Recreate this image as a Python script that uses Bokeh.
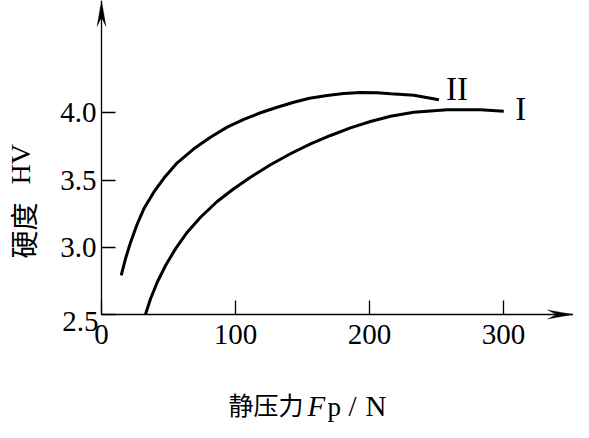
import math
from bokeh.plotting import figure
from bokeh.models import Range1d, FixedTicker, Label, PolyAnnotation
from bokeh.embed import file_html
from bokeh.resources import INLINE

# ---- data ----
x_ticks = [0, 100, 200, 300]
y_ticks = [2.5, 3.0, 3.5, 4.0]
x_tick_labels = ["0", "100", "200", "300"]
y_tick_labels = ["2.5", "3.0", "3.5", "4.0"]

curve2_x = [14.7, 17.9, 21.6, 26.6, 31.6, 39.0, 46.5, 56.5, 68.9, 81.3, 93.8, 106.2,
            118.7, 131.1, 143.5, 155.2, 168.4, 180.8, 193.3, 205.7, 215.7, 233.1, 251.8]
curve2_y = [2.790, 2.914, 3.033, 3.171, 3.286, 3.409, 3.513, 3.628, 3.732, 3.818, 3.893, 3.950,
            4.000, 4.041, 4.078, 4.108, 4.128, 4.143, 4.151, 4.148, 4.141, 4.130, 4.096]

curve1_x = [32.8, 36.6, 41.6, 47.8, 55.2, 64.0, 73.9, 86.3, 98.7, 111.2, 126.1,
            141.0, 156.0, 170.9, 185.8, 200.7, 215.7, 233.1, 258.0, 282.8, 300.2]
curve1_y = [2.500, 2.617, 2.740, 2.864, 2.988, 3.112, 3.223, 3.340, 3.435, 3.521, 3.613,
            3.695, 3.769, 3.831, 3.888, 3.935, 3.974, 4.004, 4.022, 4.022, 4.012]

series_names = ["II", "I"]

# ---- layout ----
W, H = 573, 422
AX_X, AX_Y = 101, 314       # pixel position of the axes corner
XPX = 1.34                  # pixels per x unit
YPX = 134.5                 # pixels per y unit
xa, ya = 0.0, 2.5           # axes origin (data)
x1 = xa + (W - AX_X) / XPX
y1 = ya + AX_Y / YPX


def px2x(X):
    return xa + (X - AX_X) / XPX


def px2y(Y):
    return ya + (AX_Y - Y) / YPX


SERIF = "Liberation Serif"
CJK = "Noto Sans CJK SC"

p = figure(width=W, height=H, output_backend="svg", toolbar_location=None,
           x_range=Range1d(px2x(0), px2x(W)), y_range=Range1d(px2y(H), px2y(0)),
           min_border_left=0, min_border_bottom=0, min_border_top=0, min_border_right=0)
p.outline_line_color = None
p.grid.visible = False
p.background_fill_color = "white"
p.border_fill_color = "white"

p.xaxis.fixed_location = ya
p.yaxis.fixed_location = xa
p.xaxis.bounds = (xa, x1)
p.yaxis.bounds = (ya, y1)

for ax in (p.xaxis[0], p.yaxis[0]):
    ax.axis_line_color = "black"
    ax.axis_line_width = 1.3
    ax.major_tick_in = 14
    ax.major_tick_out = 0
    ax.minor_tick_in = 0
    ax.minor_tick_out = 0
    ax.major_tick_line_width = 1.3
    ax.major_label_text_font = SERIF
    ax.major_label_text_font_size = "29px"
    ax.major_label_text_color = "black"

p.xaxis.ticker = FixedTicker(ticks=x_ticks)
p.yaxis.ticker = FixedTicker(ticks=y_ticks)
p.xaxis.major_label_overrides = {t: s for t, s in zip(x_ticks, x_tick_labels)}
y_over = {t: s for t, s in zip(y_ticks, y_tick_labels)}
y_over[y_ticks[0]] = ""          # drawn separately: it sits a little low in the reference
p.yaxis.major_label_overrides = y_over
p.xaxis.major_label_standoff = 10
p.yaxis.major_label_standoff = 5

# curves
p.line(curve2_x, curve2_y, line_color="black", line_width=3)
p.line(curve1_x, curve1_y, line_color="black", line_width=3)

p.add_layout(Label(x=curve2_x[-1] + 18 / XPX, y=curve2_y[-1] + 11 / YPX, text=series_names[0],
                   text_font=SERIF, text_font_size="33px", text_align="center",
                   text_baseline="middle", text_color="black"))
p.add_layout(Label(x=curve1_x[-1] + 17 / XPX, y=curve1_y[-1] + 2 / YPX, text=series_names[1],
                   text_font=SERIF, text_font_size="33px", text_align="center",
                   text_baseline="middle", text_color="black"))

# arrowheads on the axes
L, hw, notch = 26, 4.5, 0.65
p.add_layout(PolyAnnotation(
    xs=[x1, x1 - L / XPX, x1 - notch * L / XPX, x1 - L / XPX],
    ys=[ya, ya + hw / YPX, ya, ya - hw / YPX],
    fill_color="black", fill_alpha=1, line_color="black", line_width=1))
p.add_layout(PolyAnnotation(
    xs=[xa, xa + hw / XPX, xa, xa - hw / XPX],
    ys=[y1, y1 - L / YPX, y1 - notch * L / YPX, y1 - L / YPX],
    fill_color="black", fill_alpha=1, line_color="black", line_width=1))


def txt(X, Y, s, font, size, align="left", baseline="middle", style="normal", angle=0.0):
    p.add_layout(Label(x=px2x(X), y=px2y(Y), text=s, text_font=font, text_font_size=size,
                       text_font_style=style, text_align=align, text_baseline=baseline,
                       angle=angle, text_color="black"))


# lowest y tick label
p.add_layout(Label(x=xa - 3 / XPX, y=y_ticks[0] - 7 / YPX, text=y_tick_labels[0],
                   text_font=SERIF, text_font_size="29px", text_align="right",
                   text_baseline="middle", text_color="black"))

# x axis title: 静压力 F_p / N
txt(228, 403, "静压力", CJK, "25px")
txt(307, 405, "F", SERIF, "29px", style="italic")
txt(327, 406, "p", SERIF, "27px")
txt(348, 405, "/", SERIF, "29px")
txt(365, 405, "N", SERIF, "29px")

# y axis title: 硬度 HV (reads bottom to top)
txt(22, 258, "硬度", CJK, "28px", angle=math.pi / 2)
txt(20, 184, "HV", SERIF, "28px", angle=math.pi / 2)

open("out.html", "w").write(file_html(p, INLINE))
